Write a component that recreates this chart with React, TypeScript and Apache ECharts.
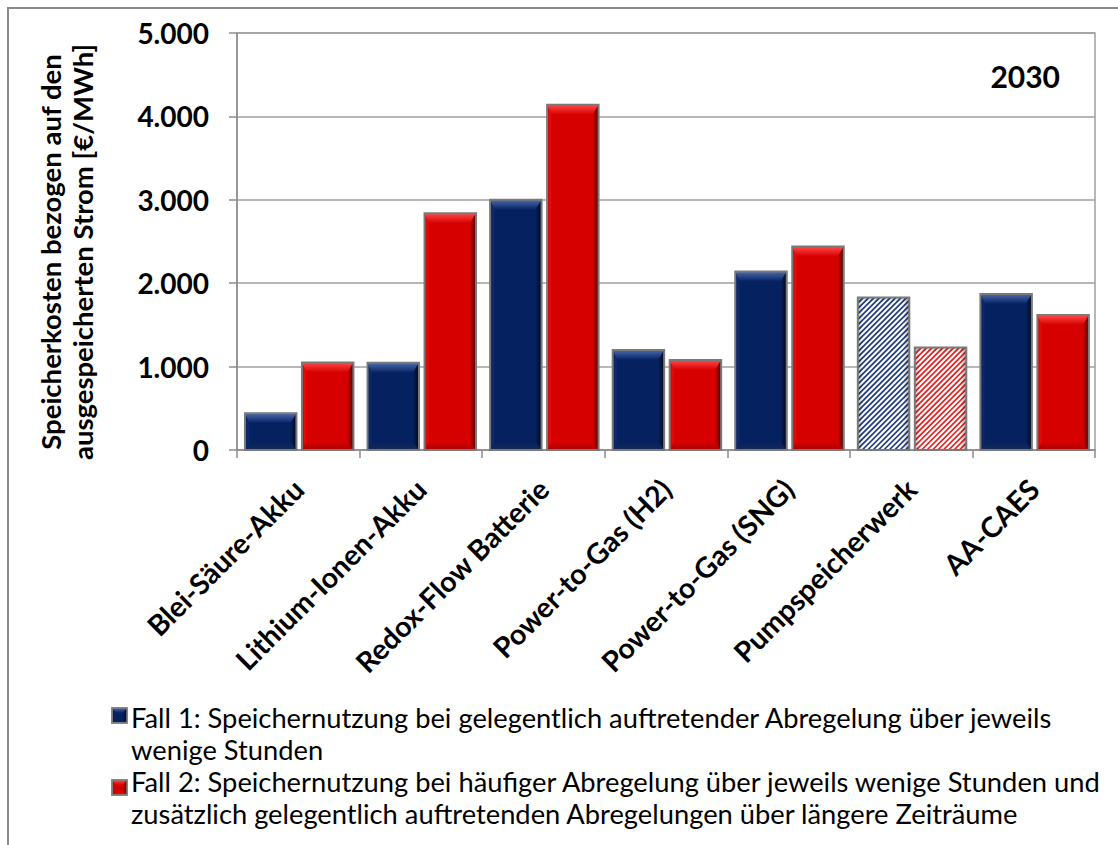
import React, { useEffect, useRef } from "react";
import * as echarts from "echarts";

const categories = [
  "Blei-Säure-Akku",
  "Lithium-Ionen-Akku",
  "Redox-Flow Batterie",
  "Power-to-Gas (H2)",
  "Power-to-Gas (SNG)",
  "Pumpspeicherwerk",
  "AA-CAES",
];
const fall1 = [440, 1045, 3000, 1200, 2140, 1830, 1870];
const fall2 = [1050, 2840, 4140, 1080, 2440, 1230, 1620];
const hatchedCategories = ["Pumpspeicherwerk"];
const yTicks = [0, 1000, 2000, 3000, 4000, 5000];
const yAxisTitle = ["Speicherkosten bezogen auf den", "ausgespeicherten Strom [€/MWh]"];
const yearLabel = "2030";
const legendLines1 = [
  "Fall 1: Speichernutzung bei gelegentlich auftretender Abregelung über jeweils",
  "wenige Stunden",
];
const legendLines2 = [
  "Fall 2: Speichernutzung bei häufiger Abregelung über jeweils wenige Stunden und",
  "zusätzlich gelegentlich auftretenden Abregelungen über längere Zeiträume",
];

const FONT = "Lato, 'Open Sans', sans-serif";

const PAL = [
  { main: "#06215f", light: "#4a6bb0", dark: "#000818", bottom: "#152a58", left: "#0f2c6e", stripe: "#1e3c7e" },
  { main: "#d70000", light: "#ff4a4a", dark: "#4a0000", bottom: "#a80000", left: "#e01010", stripe: "#e41e1e" },
];

function fmt(v: number) {
  return String(v).replace(/\B(?=(\d{3})+(?!\d))/g, ".");
}

function vgrad(a: string, b: string) {
  return new echarts.graphic.LinearGradient(0, 0, 0, 1, [
    { offset: 0, color: a },
    { offset: 1, color: b },
  ]);
}
function hgrad(a: string, b: string) {
  return new echarts.graphic.LinearGradient(0, 0, 1, 0, [
    { offset: 0, color: a },
    { offset: 1, color: b },
  ]);
}

function makeRenderItem(si: number) {
  const pal = PAL[si];
  return (params: any, api: any) => {
    const idx = api.value(0);
    const val = api.value(1);
    const c0 = api.coord([idx, 0]);
    const c1 = api.coord([idx, val]);
    const bw = api.size([1, 0])[0];
    const left = c0[0] - bw / 2;
    const w = bw * 0.42;
    const x = left + bw * (si === 0 ? 0.065 : 0.065 + 0.42 + 0.045);
    const y = c1[1];
    const h = c0[1] - c1[1];
    const hatched = hatchedCategories.indexOf(categories[idx]) >= 0;
    const children: any[] = [];
    const bt = Math.min(10, h * 0.35);
    const bb = Math.min(8, h * 0.3);
    const bl = 4;
    const br = 6;
    const x1 = x + w;
    const y1 = y + h;
    if (!hatched) {
      children.push({ type: "rect", shape: { x, y, width: w, height: h }, style: { fill: pal.main } });
      children.push({
        type: "polygon",
        shape: { points: [[x, y], [x1, y], [x1 - br, y + bt], [x + bl, y + bt]] },
        style: { fill: vgrad(pal.light, pal.main) },
      });
      children.push({
        type: "polygon",
        shape: { points: [[x, y1], [x1, y1], [x1 - br, y1 - bb], [x + bl, y1 - bb]] },
        style: { fill: vgrad(pal.main, pal.bottom) },
      });
      children.push({
        type: "polygon",
        shape: { points: [[x, y], [x + bl, y + bt], [x + bl, y1 - bb], [x, y1]] },
        style: { fill: hgrad(pal.main, pal.left) },
      });
      children.push({
        type: "polygon",
        shape: { points: [[x1, y], [x1 - br, y + bt], [x1 - br, y1 - bb], [x1, y1]] },
        style: { fill: hgrad(pal.main, pal.dark) },
      });
    } else {
      children.push({ type: "rect", shape: { x, y, width: w, height: h }, style: { fill: "#ffffff" } });
      const s = 5.4;
      const cStart = Math.ceil((x + y) / s) * s;
      for (let c = cStart; c < x1 + y1; c += s) {
        const xa = Math.max(x, c - y1);
        const xb = Math.min(x1, c - y);
        if (xb > xa + 0.5) {
          children.push({
            type: "line",
            shape: { x1: xa, y1: c - xa, x2: xb, y2: c - xb },
            style: { stroke: pal.stripe, lineWidth: 1.7 },
          });
        }
      }
      children.push({
        type: "rect",
        shape: { x, y, width: 5, height: h },
        style: { fill: hgrad("rgba(0,0,0,0.28)", "rgba(0,0,0,0)") },
      });
      children.push({
        type: "rect",
        shape: { x: x1 - 6, y, width: 6, height: h },
        style: { fill: hgrad("rgba(0,0,0,0)", "rgba(0,0,0,0.35)") },
      });
      children.push({
        type: "rect",
        shape: { x, y, width: w, height: 5 },
        style: { fill: vgrad("rgba(0,0,0,0.2)", "rgba(0,0,0,0)") },
      });
    }
    children.push({
      type: "rect",
      shape: { x, y, width: w, height: h },
      style: { fill: "none", stroke: "#7a7a7a", lineWidth: 2 },
    });
    return { type: "group", children };
  };
}

function legendSquare(x: number, y: number, pal: any) {
  return {
    type: "group",
    children: [
      { type: "rect", shape: { x, y, width: 15, height: 15 }, style: { fill: pal.main, stroke: "#808080", lineWidth: 1.5 } },
      {
        type: "polygon",
        shape: { points: [[x, y], [x + 15, y], [x + 11, y + 5], [x + 4, y + 5]] },
        style: { fill: vgrad(pal.light, pal.main) },
      },
      {
        type: "polygon",
        shape: { points: [[x + 15, y], [x + 11, y + 5], [x + 11, y + 11], [x + 15, y + 15]] },
        style: { fill: hgrad(pal.main, pal.dark) },
      },
      { type: "rect", shape: { x, y, width: 15, height: 15 }, style: { fill: "none", stroke: "#808080", lineWidth: 1.5 } },
    ],
  };
}

export default function App() {
  const ref = useRef<HTMLDivElement>(null);
  useEffect(() => {
    if (!ref.current) return;
    const chart = echarts.init(ref.current, null, { renderer: "svg" });
    const legendTextStyle = { fontFamily: FONT, fontSize: 27.3, fill: "#000", textVerticalAlign: "middle" };
    chart.setOption({
      animation: false,
      backgroundColor: "#ffffff",
      grid: {
        left: 237,
        right: 23,
        top: 33,
        bottom: 395,
        show: true,
        borderColor: "#a0a0a0",
        borderWidth: 1.5,
      },
      xAxis: {
        type: "category",
        data: categories,
        axisLine: { lineStyle: { color: "#8c8c8c", width: 1.5 } },
        axisTick: { show: true, length: 8, lineStyle: { color: "#8c8c8c", width: 1.5 } },
        axisLabel: {
          rotate: 45,
          margin: 34,
          fontFamily: FONT,
          fontWeight: "bold",
          fontSize: 28.5,
          color: "#000",
          interval: 0,
        },
      },
      yAxis: {
        type: "value",
        min: yTicks[0],
        max: yTicks[yTicks.length - 1],
        interval: 1000,
        axisLine: { show: true, lineStyle: { color: "#8c8c8c", width: 1.5 } },
        axisTick: { show: true, length: 8, lineStyle: { color: "#8c8c8c", width: 1.5 } },
        splitLine: { lineStyle: { color: "#a0a0a0", width: 1.5 } },
        axisLabel: {
          margin: 28,
          fontFamily: FONT,
          fontWeight: "bold",
          fontSize: 28,
          color: "#000",
          formatter: (v: number) => fmt(v),
        },
      },
      series: [
        {
          type: "custom",
          name: "Fall 1",
          renderItem: makeRenderItem(0),
          encode: { x: 0, y: 1 },
          data: fall1.map((v, i) => [i, v]),
        },
        {
          type: "custom",
          name: "Fall 2",
          renderItem: makeRenderItem(1),
          encode: { x: 0, y: 1 },
          data: fall2.map((v, i) => [i, v]),
        },
      ],
      graphic: [
        {
          type: "rect",
          silent: true,
          z: 100,
          shape: { x: 8, y: 8, width: 1200, height: 1000 },
          style: { fill: "none", stroke: "#8c8c8c", lineWidth: 2 },
        },
        {
          type: "text",
          x: 66,
          y: 252,
          rotation: Math.PI / 2,
          style: {
            text: yAxisTitle.join("\n"),
            fontFamily: FONT,
            fontWeight: "bold",
            fontSize: 27.5,
            lineHeight: 32,
            fill: "#000",
            textAlign: "center",
            textVerticalAlign: "middle",
          },
        },
        {
          type: "text",
          x: 1060,
          y: 76,
          style: {
            text: yearLabel,
            fontFamily: FONT,
            fontWeight: "bold",
            fontSize: 30,
            fill: "#000",
            textAlign: "right",
            textVerticalAlign: "middle",
          },
        },
        legendSquare(112, 708, PAL[0]),
        legendSquare(112, 780, PAL[1]),
        { type: "text", x: 131, y: 717, style: { ...legendTextStyle, text: legendLines1[0] } },
        { type: "text", x: 131, y: 749, style: { ...legendTextStyle, text: legendLines1[1] } },
        { type: "text", x: 131, y: 781, style: { ...legendTextStyle, text: legendLines2[0] } },
        { type: "text", x: 131, y: 813, style: { ...legendTextStyle, text: legendLines2[1] } },
      ],
    });
    return () => chart.dispose();
  }, []);
  return (
    <div
      ref={ref}
      style={{ position: "absolute", left: 0, top: 0, width: 1118, height: 845 }}
    />
  );
}
